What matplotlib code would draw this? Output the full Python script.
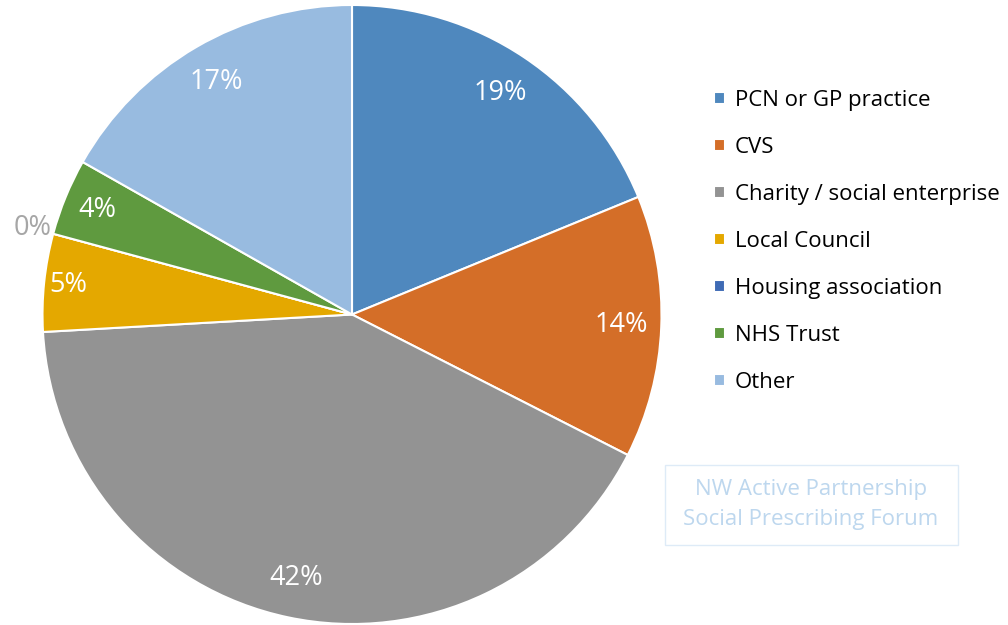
import numpy as np
import matplotlib.pyplot as plt
from matplotlib.patches import Rectangle

LABELS=["PCN or GP practice","CVS","Charity / social enterprise","Local Council","Housing association","NHS Trust","Other"]
VALUES=[18.8,13.7,41.6,5.1,0.0,4.0,16.8]
COLORS=["#4F88BE","#D46E28","#939393","#E4A800","#3F6BB5","#5F9A3F","#98BBE0"]
LABEL_DIST=[0.86,0.87,0.87,0.92,1.07,0.89,0.87]

plt.rcParams["font.family"]=["Open Sans","DejaVu Sans"]
fig=plt.figure(figsize=(10.08,6.25),dpi=100)
ax=fig.add_axes([41/1008,1/625,622/1008,619/625])
wedges,_=ax.pie(VALUES,colors=COLORS,startangle=90,counterclock=False,radius=1,
	wedgeprops=dict(edgecolor="white",linewidth=1.5))
ax.set_xlim(-1,1)
ax.set_ylim(-1,1)
ax.set_aspect("equal")

for w,v,d in zip(wedges,VALUES,LABEL_DIST):
	ang=np.deg2rad((w.theta1+w.theta2)/2)
	col="white" if v>0 else "#A6A6A6"
	ax.text(d*np.cos(ang),d*np.sin(ang),f"{v:.0f}%",ha="center",va="center",fontsize=19.5,color=col)

leg=fig.legend(wedges,LABELS,loc="upper left",bbox_to_anchor=(694/1008,1-70/625),frameon=False,
	fontsize=16,handlelength=0.5,handleheight=0.5,handletextpad=0.45,labelspacing=1.17)

fig.add_artist(Rectangle((665/1008,1-545/625),293/1008,80/625,transform=fig.transFigure,
	fill=False,edgecolor="#DEEBF7",linewidth=1))
fig.text(811/1008,1-490/625,"NW Active Partnership",ha="center",va="center",fontsize=16,color="#BDD7EE")
fig.text(811/1008,1-520/625,"Social Prescribing Forum",ha="center",va="center",fontsize=16,color="#BDD7EE")

plt.savefig("out.png",dpi=100)
